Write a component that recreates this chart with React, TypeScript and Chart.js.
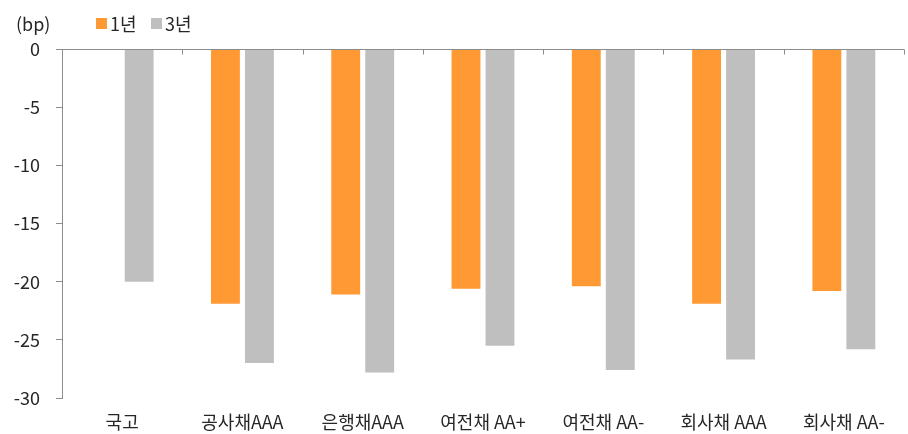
import React, { useEffect, useRef } from "react";
import { Chart, registerables } from "chart.js";

Chart.register(...registerables);

const categories = ["국고", "공사채AAA", "은행채AAA", "여전채 AA+", "여전채 AA-", "회사채 AAA", "회사채 AA-"];
const series1yLabel = "1년";
const series3yLabel = "3년";
const series1y = [0, -21.9, -21.1, -20.6, -20.4, -21.9, -20.8];
const series3y = [-20.0, -27.0, -27.8, -25.5, -27.6, -26.7, -25.8];
const yTicks = [0, -5, -10, -15, -20, -25, -30];

const ORANGE = "#FF9933";
const GRAY = "#BFBFBF";
const AXIS = "#8C8C8C";
const TEXT = "#262626";
const FONT = "'Noto Sans CJK KR', 'Noto Sans', sans-serif";

const zeroLinePlugin = {
  id: "zeroLine",
  afterDatasetsDraw(chart: any) {
    const { ctx, chartArea, scales } = chart;
    const x = scales.x;
    const y = scales.y;
    const y0 = Math.round(y.getPixelForValue(0)) + 0.5;
    ctx.save();
    ctx.strokeStyle = AXIS;
    ctx.lineWidth = 1;
    ctx.beginPath();
    ctx.moveTo(chartArea.left, y0);
    ctx.lineTo(chartArea.right, y0);
    const n = categories.length;
    const half = (x.getPixelForValue(1) - x.getPixelForValue(0)) / 2;
    for (let i = 1; i <= n; i++) {
      const bx = Math.round(x.getPixelForValue(i) - half) + 0.5;
      ctx.moveTo(bx, y0);
      ctx.lineTo(bx, y0 + 5);
    }
    ctx.stroke();
    ctx.restore();
  },
};

export default function App() {
  const ref = useRef<HTMLCanvasElement | null>(null);
  useEffect(() => {
    document.body.style.margin = "0";
    const canvas = ref.current!;
    const chart = new Chart(canvas, {
      type: "bar",
      data: {
        labels: categories,
        datasets: [
          {
            label: series1yLabel,
            data: series1y,
            backgroundColor: ORANGE,
            borderWidth: 0,
            categoryPercentage: 0.565,
            barPercentage: 0.85,
          },
          {
            label: series3yLabel,
            data: series3y,
            backgroundColor: GRAY,
            borderWidth: 0,
            categoryPercentage: 0.565,
            barPercentage: 0.85,
          },
        ],
      },
      options: {
        responsive: false,
        animation: false,
        layout: { padding: { top: 49, right: 4, bottom: 0, left: 0 } },
        plugins: {
          legend: { display: false },
          tooltip: { enabled: false },
        },
        scales: {
          x: {
            afterFit: (s: any) => {
              s.height = 36;
            },
            grid: { display: false, drawTicks: false },
            border: { display: false },
            ticks: {
              color: TEXT,
              font: { family: FONT, size: 18 },
              padding: 13,
              maxRotation: 0,
              autoSkip: false,
            },
          },
          y: {
            min: -30,
            max: 0,
            afterFit: (s: any) => {
              s.width = 62;
            },
            afterBuildTicks: (s: any) => {
              s.ticks = yTicks.map((v) => ({ value: v }));
            },
            grid: {
              drawOnChartArea: false,
              drawTicks: true,
              tickLength: 6,
              color: AXIS,
              tickColor: AXIS,
            },
            border: { display: true, color: AXIS, width: 1 },
            ticks: {
              color: TEXT,
              font: { family: FONT, size: 18 },
              padding: 16,
            },
          },
        },
      },
      plugins: [zeroLinePlugin],
    });
    return () => chart.destroy();
  }, []);

  const legendText: React.CSSProperties = {
    position: "absolute",
    fontFamily: FONT,
    fontSize: 18,
    color: TEXT,
    lineHeight: "22px",
    top: 12,
  };
  const box = (left: number, color: string): React.CSSProperties => ({
    position: "absolute",
    left,
    top: 18,
    width: 11,
    height: 11,
    background: color,
  });

  return (
    <div style={{ position: "relative", width: 908, height: 434, background: "#fff" }}>
      <canvas ref={ref} width={908} height={434} style={{ display: "block" }} />
      <div style={{ ...legendText, left: 16 }}>(bp)</div>
      <div style={box(96, ORANGE)} />
      <div style={{ ...legendText, left: 110 }}>{series1yLabel}</div>
      <div style={box(151, GRAY)} />
      <div style={{ ...legendText, left: 165 }}>{series3yLabel}</div>
    </div>
  );
}
